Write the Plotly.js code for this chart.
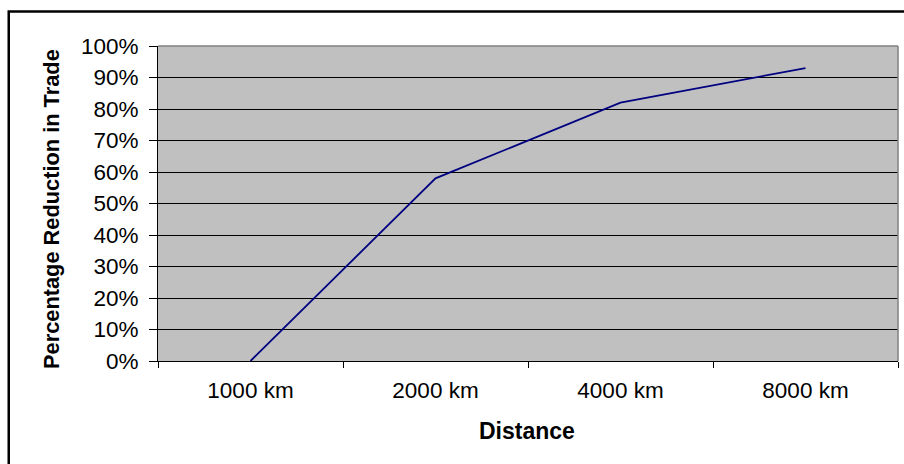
<!DOCTYPE html>
<html>
<head>
<meta charset="utf-8">
<script src="https://cdn.plot.ly/plotly-3.0.1.min.js"></script>
<style>html,body{margin:0;padding:0;background:#fff;}</style>
</head>
<body>
<div id="chart" style="width:904px;height:464px;"></div>
<script>
const categories = ["1000 km", "2000 km", "4000 km", "8000 km"];
const reduction = [0.00, 0.58, 0.82, 0.93];
const yTickValues = [0, 0.1, 0.2, 0.3, 0.4, 0.5, 0.6, 0.7, 0.8, 0.9, 1.0];
const xTitle = "Distance";
const yTitle = "Percentage Reduction in Trade";

const trace = {
  type: "scatter",
  mode: "lines",
  x: categories,
  y: reduction,
  line: {color: "#000080", width: 1.8},
  hoverinfo: "skip"
};

const FONT = "Liberation Sans, Arial, sans-serif";

const layout = {
  width: 904,
  height: 464,
  margin: {l: 158, r: 6, t: 46, b: 103},
  paper_bgcolor: "#ffffff",
  plot_bgcolor: "#C0C0C0",
  showlegend: false,
  font: {family: FONT, color: "#000000", size: 20},
  xaxis: {
    type: "category",
    range: [-0.5, 3.5],
    showgrid: false,
    showline: true,
    linecolor: "#000000",
    linewidth: 1,
    ticks: "outside",
    tickson: "boundaries",
    ticklen: 6,
    tickcolor: "#000000",
    tickfont: {family: FONT, size: 22.5, color: "#000"},
    ticklabelstandoff: 9,
    fixedrange: true
  },
  yaxis: {
    range: [0, 1],
    tickvals: yTickValues,
    tickformat: ".0%",
    showgrid: true,
    gridcolor: "#000000",
    gridwidth: 1,
    showline: true,
    linecolor: "#000000",
    linewidth: 1,
    ticks: "outside",
    ticklen: 8,
    tickcolor: "#000000",
    zeroline: false,
    tickfont: {family: FONT, size: 22.5, color: "#000"},
    ticklabelstandoff: 6,
    fixedrange: true
  },
  annotations: [
    {text: "<b>" + yTitle + "</b>", xref: "paper", yref: "paper", x: (52 - 158) / 740, y: (361 - 209) / 315,
     xanchor: "center", yanchor: "middle", textangle: -90, showarrow: false,
     font: {family: FONT, size: 21.8, color: "#000"}},
    {text: "<b>" + xTitle + "</b>", xref: "paper", yref: "paper", x: (527 - 158) / 740, y: (361 - 431) / 315,
     xanchor: "center", yanchor: "middle", showarrow: false,
     font: {family: FONT, size: 23, color: "#000"}}
  ],
  shapes: [
    {type: "line", xref: "paper", yref: "paper", x0: 0, x1: 1, y0: 1, y1: 1, line: {color: "#808080", width: 1.5}},
    {type: "line", xref: "paper", yref: "paper", x0: 1, x1: 1, y0: 0, y1: 1, line: {color: "#808080", width: 1.5}},
    {type: "rect", xref: "paper", yref: "paper", x0: -0.2017, x1: 1.06, y0: -0.4, y1: 1.1095, line: {color: "#000000", width: 2.5}, fillcolor: "rgba(0,0,0,0)", layer: "above"}
  ]
};

Plotly.newPlot("chart", [trace], layout, {staticPlot: true, displayModeBar: false});
</script>
</body>
</html>
